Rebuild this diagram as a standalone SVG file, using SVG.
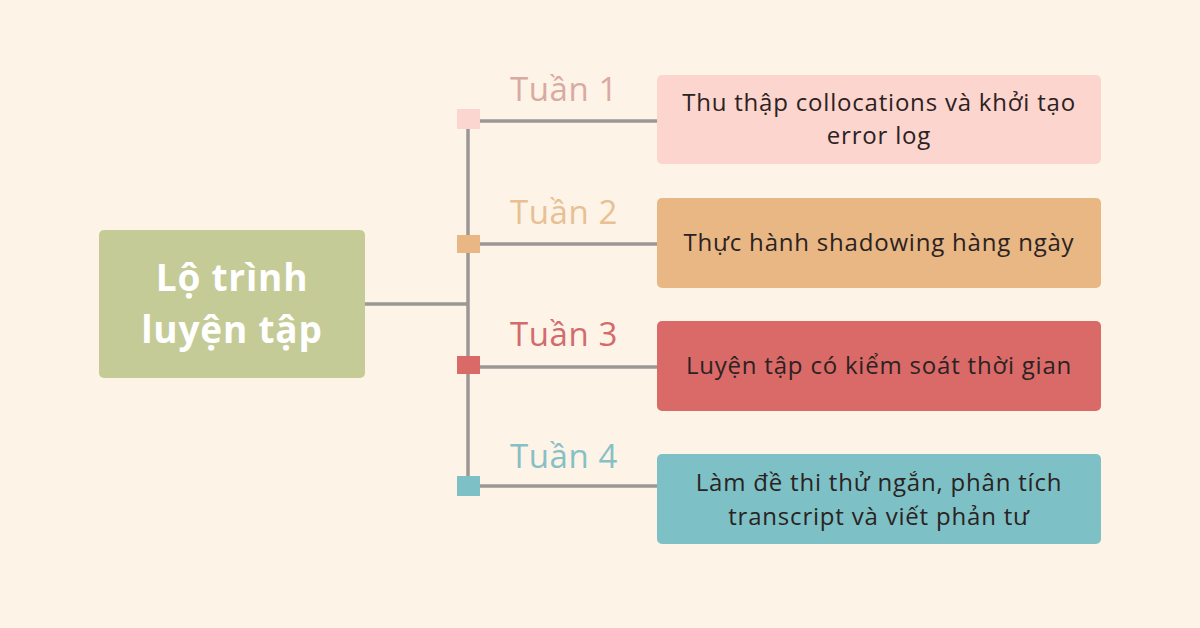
<svg xmlns="http://www.w3.org/2000/svg" width="1200" height="628" viewBox="0 0 1200 628">
<style>
.line{stroke:#9b9797;stroke-width:3.5;fill:none}
.t{font-family:"Open Sans","Noto Sans","Liberation Sans",sans-serif;font-size:24px;letter-spacing:0.8px;fill:#2b2222;text-anchor:middle}
.wk{font-family:"Open Sans","Noto Sans","Liberation Sans",sans-serif;font-size:33px;letter-spacing:0.6px;text-anchor:middle}
.c{font-family:"Open Sans","Noto Sans","Liberation Sans",sans-serif;font-size:37px;letter-spacing:0.8px;font-weight:bold;fill:#ffffff;text-anchor:middle}
</style>
<rect width="1200" height="628" fill="#fdf3e7"/>
<g id="connectors">
<line class="line" x1="365" y1="304" x2="468" y2="304"/>
<line class="line" x1="468" y1="119" x2="468" y2="486"/>
<line class="line" x1="468" y1="121" x2="657" y2="121"/>
<line class="line" x1="468" y1="244" x2="657" y2="244"/>
<line class="line" x1="468" y1="367" x2="657" y2="367"/>
<line class="line" x1="468" y1="486" x2="657" y2="486"/>
</g>
<g id="center">
<rect x="99" y="230" width="266" height="148" rx="5" fill="#c5cb97"/>
<text class="c" x="232" y="291">Lộ trình</text>
<text class="c" x="232" y="343">luyện tập</text>
</g>
<g id="week1">
<rect x="457" y="109" width="23" height="20" fill="#fbd5cf"/>
<text class="wk" x="564" y="101" fill="#d9aaa2">Tuần 1</text>
<rect x="657" y="75" width="444" height="89" rx="5" fill="#fcd5ce"/>
<text class="t" x="879" y="111">Thu thập collocations và khởi tạo</text>
<text class="t" x="879" y="144">error log</text>
</g>
<g id="week2">
<rect x="457" y="235" width="23" height="18" fill="#e8b784"/>
<text class="wk" x="564" y="224" fill="#e8c093">Tuần 2</text>
<rect x="657" y="198" width="444" height="90" rx="5" fill="#e8b784"/>
<text class="t" x="879" y="251">Thực hành shadowing hàng ngày</text>
</g>
<g id="week3">
<rect x="457" y="356" width="23" height="18" fill="#d96a68"/>
<text class="wk" x="564" y="346" fill="#d26b6c">Tuần 3</text>
<rect x="657" y="321" width="444" height="90" rx="5" fill="#d96a68"/>
<text class="t" x="879" y="374">Luyện tập có kiểm soát thời gian</text>
</g>
<g id="week4">
<rect x="457" y="476" width="23" height="20" fill="#7dc1c6"/>
<text class="wk" x="564" y="468" fill="#86c0c6">Tuần 4</text>
<rect x="657" y="454" width="444" height="90" rx="5" fill="#7dc1c6"/>
<text class="t" x="879" y="491">Làm đề thi thử ngắn, phân tích</text>
<text class="t" x="879" y="525">transcript và viết phản tư</text>
</g>
</svg>
